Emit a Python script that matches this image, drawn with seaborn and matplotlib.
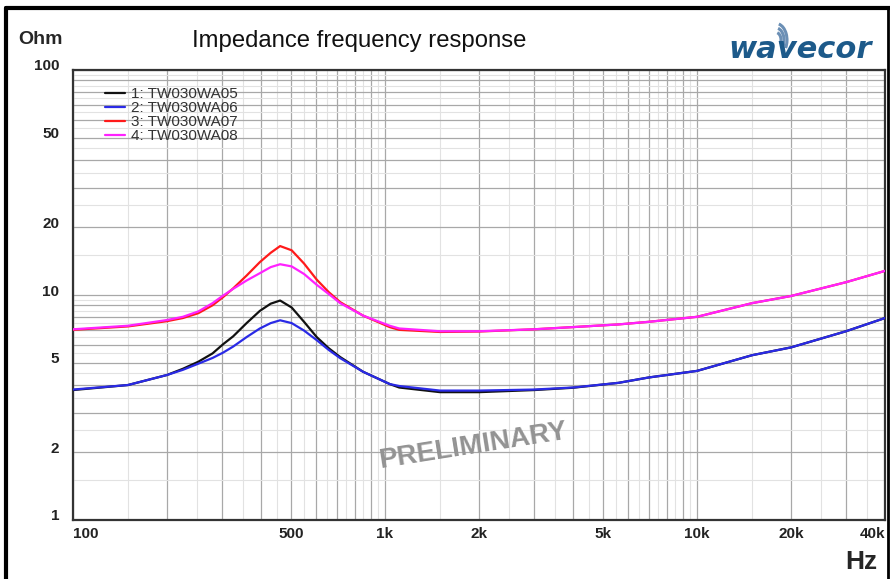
import numpy as np
import pandas as pd
import matplotlib
matplotlib.use("Agg")
import matplotlib.pyplot as plt
import matplotlib.ticker as mticker
import matplotlib.transforms as mtransforms
from matplotlib.patches import Arc
import seaborn as sns

# Impedance curves (Hz -> Ohm)
freq = [100, 150, 200, 225, 252, 280, 303, 326, 360, 397, 430, 461, 502, 550, 604, 660, 718,
        850, 1035, 1110, 1500, 2000, 3000, 4000, 5600, 7000, 10000, 15000, 20000,
        30000, 40000]
wa05 = [3.78, 3.98, 4.41, 4.7, 5.05, 5.5, 6.05, 6.55, 7.5, 8.5, 9.15, 9.45, 8.8, 7.6, 6.5, 5.8, 5.3,
        4.56, 4.02, 3.88, 3.7, 3.7, 3.78, 3.87, 4.07, 4.3, 4.6, 5.4, 5.85,
        6.9, 7.9]
wa06 = [3.8, 3.98, 4.41, 4.65, 4.95, 5.25, 5.55, 5.9, 6.5, 7.1, 7.5, 7.72, 7.5, 6.95, 6.3, 5.7, 5.24,
        4.56, 4.02, 3.94, 3.76, 3.76, 3.8, 3.88, 4.07, 4.3, 4.6, 5.4, 5.85,
        6.9, 7.9]
wa07 = [7.0, 7.25, 7.65, 7.9, 8.3, 9.0, 9.8, 10.7, 12.2, 14.0, 15.4, 16.5, 15.8, 13.8, 11.7, 10.3, 9.3,
        8.1, 7.2, 7.0, 6.85, 6.88, 7.04, 7.2, 7.4, 7.6, 8.0, 9.2, 9.9,
        11.4, 12.8]
wa08 = [7.04, 7.3, 7.74, 8.0, 8.45, 9.2, 9.95, 10.65, 11.6, 12.5, 13.3, 13.7, 13.4, 12.4, 11.1, 10.1, 9.2,
        8.1, 7.3, 7.1, 6.9, 6.9, 7.04, 7.2, 7.4, 7.6, 8.0, 9.2, 9.9,
        11.4, 12.8]

labels = ["1: TW030WA05", "2: TW030WA06", "3: TW030WA07", "4: TW030WA08"]
colors = ["#111111", "#2a2ae6", "#ff1a1a", "#ff22ff"]

xtick_vals = [100, 500, 1000, 2000, 5000, 10000, 20000, 40000]
xtick_text = ["100", "500", "1k", "2k", "5k", "10k", "20k", "40k"]
ytick_vals = [1, 2, 5, 10, 20, 50, 100]

df = pd.DataFrame({
    "Hz": freq * 4,
    "Ohm": wa05 + wa06 + wa07 + wa08,
    "model": np.repeat(labels, len(freq)),
})

sns.set_style("white")
plt.rcParams["font.family"] = ["Liberation Sans", "DejaVu Sans"]

fig = plt.figure(figsize=(8.9, 5.79), dpi=100)
ax = fig.add_axes([73 / 890, 1 - 520 / 579, 812 / 890, 450 / 579])

sns.lineplot(data=df, x="Hz", y="Ohm", hue="model", palette=colors,
             linewidth=1.6, ax=ax, zorder=3)

ax.set_xscale("log")
ax.set_yscale("log")
ax.set_xlim(100, 40000)
ax.set_ylim(1, 100)

# grid: darker lines on 1..9 multiples, faint lines in between
ax.xaxis.set_major_locator(mticker.LogLocator(base=10, subs=np.arange(1, 10)))
ax.xaxis.set_minor_locator(mticker.LogLocator(base=10, subs=np.arange(1.5, 10, 1)))
ax.yaxis.set_major_locator(mticker.LogLocator(base=10, subs=np.arange(1, 10)))
ax.yaxis.set_minor_locator(mticker.LogLocator(base=10, subs=np.arange(1.5, 10, 1)))
ax.grid(True, which="major", color="#a8a8a8", linewidth=0.9)
ax.grid(True, which="minor", color="#e2e2e2", linewidth=0.8)
ax.tick_params(which="both", length=0)

def xfmt(v, pos):
    for tv, tt in zip(xtick_vals, xtick_text):
        if abs(v - tv) < 1e-6 * tv:
            return tt
    return ""

def yfmt(v, pos):
    for tv in ytick_vals:
        if abs(v - tv) < 1e-6 * tv:
            return str(tv)
    return ""

ax.xaxis.set_major_formatter(mticker.FuncFormatter(xfmt))
ax.yaxis.set_major_formatter(mticker.FuncFormatter(yfmt))
ax.xaxis.set_minor_formatter(mticker.NullFormatter())
ax.yaxis.set_minor_formatter(mticker.NullFormatter())
ax.tick_params(axis="x", pad=5)
ax.tick_params(axis="y", pad=10)
ax.set_xlabel("")
ax.set_ylabel("")
fig.canvas.draw()

up = mtransforms.ScaledTranslation(0, 5 / 100, fig.dpi_scale_trans)
for lab in ax.get_yticklabels():
    lab.set_fontweight("bold")
    lab.set_fontsize(11)
    lab.set_color("#222222")
    lab.set_transform(lab.get_transform() + up)
for lab in ax.get_xticklabels():
    lab.set_fontweight("bold")
    lab.set_fontsize(11)
    lab.set_color("#222222")
    if lab.get_text() == "100":
        lab.set_ha("left")
    elif lab.get_text() == "40k":
        lab.set_ha("right")

for s in ax.spines.values():
    s.set_color("#333333")
    s.set_linewidth(1.6)

leg = ax.legend(loc="upper left", bbox_to_anchor=(0.039, 0.962), frameon=False,
                fontsize=11, handlelength=1.35, labelspacing=0.0,
                handletextpad=0.35, borderaxespad=0, borderpad=0)
for t in leg.get_texts():
    t.set_color("#333333")

ax.text(0.4926, 0.165, "PRELIMINARY", transform=ax.transAxes, rotation=9,
        fontsize=20, fontweight="bold", color="#939393", ha="center", va="center")

fig.text(18 / 890, 1 - 40 / 579, "Ohm", fontsize=14, fontweight="bold", va="center")
fig.text(192 / 890, 1 - 41 / 579, "Impedance frequency response", fontsize=17.2,
         va="center", color="#111111")
fig.text(728 / 890, 1 - 49 / 579, "wavecor", fontsize=22, fontweight="bold",
         fontstyle="italic", family="DejaVu Sans", color="#1d5a8a", va="center")
fig.text(845 / 890, 1 - 562 / 579, "Hz", fontsize=19, fontweight="bold", va="center")

# little sound waves above the logo
for r in [10, 16, 22]:
    fig.add_artist(Arc((776, 579 - 40), r, r * 1.5, theta1=-40, theta2=80,
                       transform=None, color="#6b8fb5", linewidth=2.2))

# frame around the sheet
fig.add_artist(plt.Line2D([6 / 890, 6 / 890], [0, 1 - 8 / 579], color="black",
                          linewidth=3, transform=fig.transFigure))
fig.add_artist(plt.Line2D([6 / 890, 1], [1 - 8 / 579, 1 - 8 / 579], color="black",
                          linewidth=3, transform=fig.transFigure))
fig.add_artist(plt.Line2D([888 / 890, 888 / 890], [0, 1 - 8 / 579], color="black",
                          linewidth=2, transform=fig.transFigure))

plt.savefig("out.png", dpi=100)
